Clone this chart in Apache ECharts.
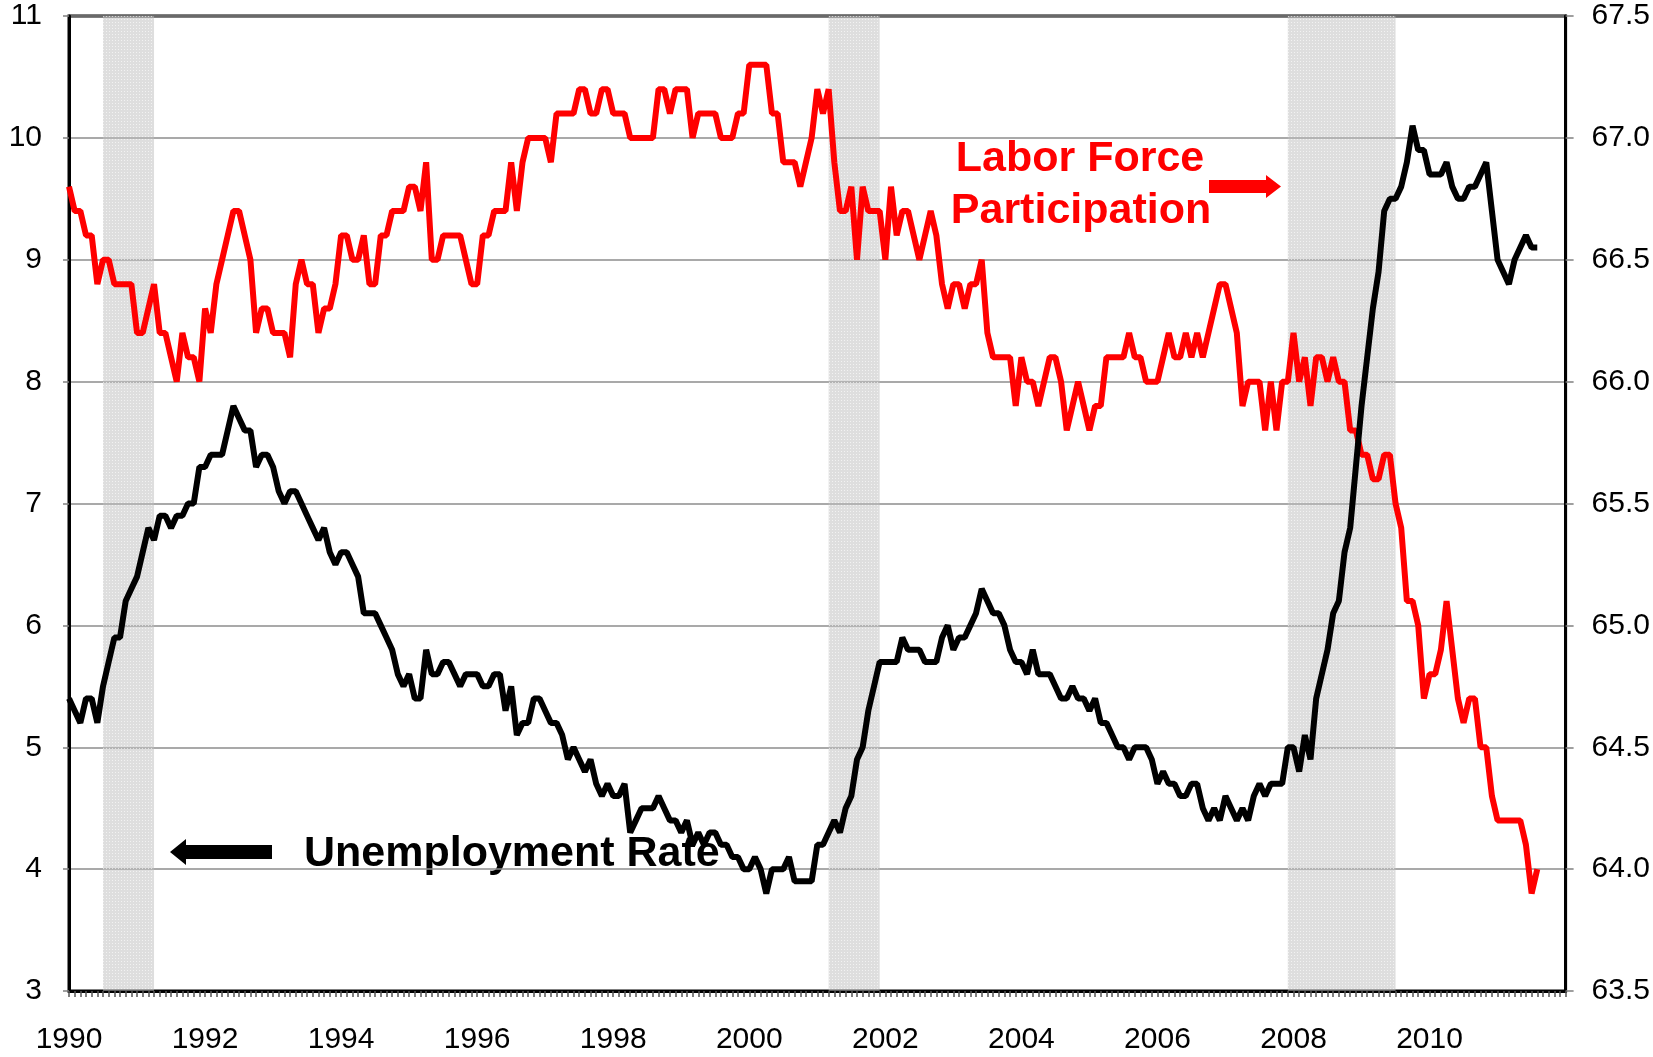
<!DOCTYPE html>
<html>
<head>
<meta charset="utf-8">
<title>Unemployment Rate and Labor Force Participation</title>
<script src="https://cdn.jsdelivr.net/npm/echarts@6/dist/echarts.min.js"></script>
<style>
  html, body { margin: 0; padding: 0; background: #ffffff; }
  #chart { width: 1653px; height: 1057px; }
</style>
</head>
<body>
<div id="chart"></div>
<script>
// monthly data, Jan 1990 .. Aug 2011 (index 0 = Jan 1990)
var yearLabels = ['1990', '1992', '1994', '1996', '1998', '2000', '2002', '2004', '2006', '2008', '2010'];

var unemployment = [
  5.4, 5.3, 5.2, 5.4, 5.4, 5.2, 5.5, 5.7, 5.9, 5.9, 6.2, 6.3,
  6.4, 6.6, 6.8, 6.7, 6.9, 6.9, 6.8, 6.9, 6.9, 7.0, 7.0, 7.3,
  7.3, 7.4, 7.4, 7.4, 7.6, 7.8, 7.7, 7.6, 7.6, 7.3, 7.4, 7.4,
  7.3, 7.1, 7.0, 7.1, 7.1, 7.0, 6.9, 6.8, 6.7, 6.8, 6.6, 6.5,
  6.6, 6.6, 6.5, 6.4, 6.1, 6.1, 6.1, 6.0, 5.9, 5.8, 5.6, 5.5,
  5.6, 5.4, 5.4, 5.8, 5.6, 5.6, 5.7, 5.7, 5.6, 5.5, 5.6, 5.6,
  5.6, 5.5, 5.5, 5.6, 5.6, 5.3, 5.5, 5.1, 5.2, 5.2, 5.4, 5.4,
  5.3, 5.2, 5.2, 5.1, 4.9, 5.0, 4.9, 4.8, 4.9, 4.7, 4.6, 4.7,
  4.6, 4.6, 4.7, 4.3, 4.4, 4.5, 4.5, 4.5, 4.6, 4.5, 4.4, 4.4,
  4.3, 4.4, 4.2, 4.3, 4.2, 4.3, 4.3, 4.2, 4.2, 4.1, 4.1, 4.0,
  4.0, 4.1, 4.0, 3.8, 4.0, 4.0, 4.0, 4.1, 3.9, 3.9, 3.9, 3.9,
  4.2, 4.2, 4.3, 4.4, 4.3, 4.5, 4.6, 4.9, 5.0, 5.3, 5.5, 5.7,
  5.7, 5.7, 5.7, 5.9, 5.8, 5.8, 5.8, 5.7, 5.7, 5.7, 5.9, 6.0,
  5.8, 5.9, 5.9, 6.0, 6.1, 6.3, 6.2, 6.1, 6.1, 6.0, 5.8, 5.7,
  5.7, 5.6, 5.8, 5.6, 5.6, 5.6, 5.5, 5.4, 5.4, 5.5, 5.4, 5.4,
  5.3, 5.4, 5.2, 5.2, 5.1, 5.0, 5.0, 4.9, 5.0, 5.0, 5.0, 4.9,
  4.7, 4.8, 4.7, 4.7, 4.6, 4.6, 4.7, 4.7, 4.5, 4.4, 4.5, 4.4,
  4.6, 4.5, 4.4, 4.5, 4.4, 4.6, 4.7, 4.6, 4.7, 4.7, 4.7, 5.0,
  5.0, 4.8, 5.1, 4.9, 5.4, 5.6, 5.8, 6.1, 6.2, 6.6, 6.8, 7.3,
  7.8, 8.2, 8.6, 8.9, 9.4, 9.5, 9.5, 9.6, 9.8, 10.1, 9.9, 9.9,
  9.7, 9.7, 9.7, 9.8, 9.6, 9.5, 9.5, 9.6, 9.6, 9.7, 9.8, 9.4,
  9.0, 8.9, 8.8, 9.0, 9.1, 9.2, 9.1, 9.1
];

var participation = [
  66.8, 66.7, 66.7, 66.6, 66.6, 66.4, 66.5, 66.5, 66.4, 66.4, 66.4, 66.4,
  66.2, 66.2, 66.3, 66.4, 66.2, 66.2, 66.1, 66.0, 66.2, 66.1, 66.1, 66.0,
  66.3, 66.2, 66.4, 66.5, 66.6, 66.7, 66.7, 66.6, 66.5, 66.2, 66.3, 66.3,
  66.2, 66.2, 66.2, 66.1, 66.4, 66.5, 66.4, 66.4, 66.2, 66.3, 66.3, 66.4,
  66.6, 66.6, 66.5, 66.5, 66.6, 66.4, 66.4, 66.6, 66.6, 66.7, 66.7, 66.7,
  66.8, 66.8, 66.7, 66.9, 66.5, 66.5, 66.6, 66.6, 66.6, 66.6, 66.5, 66.4,
  66.4, 66.6, 66.6, 66.7, 66.7, 66.7, 66.9, 66.7, 66.9, 67.0, 67.0, 67.0,
  67.0, 66.9, 67.1, 67.1, 67.1, 67.1, 67.2, 67.2, 67.1, 67.1, 67.2, 67.2,
  67.1, 67.1, 67.1, 67.0, 67.0, 67.0, 67.0, 67.0, 67.2, 67.2, 67.1, 67.2,
  67.2, 67.2, 67.0, 67.1, 67.1, 67.1, 67.1, 67.0, 67.0, 67.0, 67.1, 67.1,
  67.3, 67.3, 67.3, 67.3, 67.1, 67.1, 66.9, 66.9, 66.9, 66.8, 66.9, 67.0,
  67.2, 67.1, 67.2, 66.9, 66.7, 66.7, 66.8, 66.5, 66.8, 66.7, 66.7, 66.7,
  66.5, 66.8, 66.6, 66.7, 66.7, 66.6, 66.5, 66.6, 66.7, 66.6, 66.4, 66.3,
  66.4, 66.4, 66.3, 66.4, 66.4, 66.5, 66.2, 66.1, 66.1, 66.1, 66.1, 65.9,
  66.1, 66.0, 66.0, 65.9, 66.0, 66.1, 66.1, 66.0, 65.8, 65.9, 66.0, 65.9,
  65.8, 65.9, 65.9, 66.1, 66.1, 66.1, 66.1, 66.2, 66.1, 66.1, 66.0, 66.0,
  66.0, 66.1, 66.2, 66.1, 66.1, 66.2, 66.1, 66.2, 66.1, 66.2, 66.3, 66.4,
  66.4, 66.3, 66.2, 65.9, 66.0, 66.0, 66.0, 65.8, 66.0, 65.8, 66.0, 66.0,
  66.2, 66.0, 66.1, 65.9, 66.1, 66.1, 66.0, 66.1, 66.0, 66.0, 65.8, 65.8,
  65.7, 65.7, 65.6, 65.6, 65.7, 65.7, 65.5, 65.4, 65.1, 65.1, 65.0, 64.7,
  64.8, 64.8, 64.9, 65.1, 64.9, 64.7, 64.6, 64.7, 64.7, 64.5, 64.5, 64.3,
  64.2, 64.2, 64.2, 64.2, 64.2, 64.1, 63.9, 64.0
];

// recessions: first and last month (index from Jan 1990)
var recessions = [[6, 14], [134, 142], [215, 233]];

function withMonth(values) {
  return values.map(function (v, i) { return [i, v]; });
}

// dotted gray fill like the original shading
function shadePattern() {
  var c = document.createElement('canvas');
  c.width = 3;
  c.height = 3;
  var ctx = c.getContext('2d');
  ctx.fillStyle = 'rgba(190,190,190,0.5)';
  ctx.fillRect(0, 0, 3, 3);
  ctx.fillStyle = 'rgba(255,255,255,0.6)';
  ctx.fillRect(1, 1, 1, 1);
  return c;
}

var font = "'Liberation Sans', Arial, sans-serif";

var option = {
  animation: false,
  backgroundColor: '#ffffff',
  grid: {
    left: 69,
    right: 86,
    top: 16,
    bottom: 66,
    show: true,
    borderColor: '#000000',
    borderWidth: 3
  },
  xAxis: {
    type: 'value',
    min: 0,
    max: 264,
    interval: 24,
    axisLine: { show: true, onZero: false, lineStyle: { color: '#000000', width: 3 } },
    axisTick: { show: true, length: 6, lineStyle: { color: '#555555', width: 1.5 } },
    minorTick: { show: true, splitNumber: 24, length: 6, lineStyle: { color: '#555555', width: 1.5 } },
    splitLine: { show: false },
    axisLabel: {
      margin: 34,
      color: '#000000',
      fontSize: 30,
      fontFamily: font,
      formatter: function (v) {
        var k = Math.round(v / 24);
        return k < yearLabels.length ? yearLabels[k] : '';
      }
    }
  },
  yAxis: [
    {
      type: 'value',
      min: 3,
      max: 11,
      interval: 1,
      axisLine: { show: true, lineStyle: { color: '#000000', width: 3 } },
      axisTick: { show: true, length: 6, lineStyle: { color: '#808080', width: 1.5 } },
      splitLine: { show: true, lineStyle: { color: '#8c8c8c', width: 1.5 } },
      axisLabel: { margin: 27, color: '#000000', fontSize: 30, fontFamily: font }
    },
    {
      type: 'value',
      min: 63.5,
      max: 67.5,
      interval: 0.5,
      position: 'right',
      axisLine: { show: true, lineStyle: { color: '#000000', width: 3 } },
      axisTick: { show: true, length: 8, lineStyle: { color: '#808080', width: 1.5 } },
      splitLine: { show: false },
      axisLabel: {
        margin: 26,
        color: '#000000',
        fontSize: 30,
        fontFamily: font,
        formatter: function (v) { return v.toFixed(1); }
      }
    }
  ],
  series: [
    {
      name: 'Labor Force Participation',
      type: 'line',
      yAxisIndex: 1,
      data: withMonth(participation),
      symbol: 'none',
      lineStyle: { color: '#ff0000', width: 6 },
      markArea: {
        silent: true,
        itemStyle: { color: { image: shadePattern(), repeat: 'repeat' } },
        data: recessions.map(function (r) {
          return [{ xAxis: r[0] }, { xAxis: r[1] + 1 }];
        })
      }
    },
    {
      name: 'Unemployment Rate',
      type: 'line',
      yAxisIndex: 0,
      data: withMonth(unemployment),
      symbol: 'none',
      lineStyle: { color: '#000000', width: 6 }
    }
  ],
  graphic: [
    {
      type: 'text',
      x: 1080,
      y: 159,
      style: {
        text: 'Labor Force',
        font: 'bold 43px ' + font,
        fill: '#ff0000',
        align: 'center',
        verticalAlign: 'middle'
      }
    },
    {
      type: 'text',
      x: 1081,
      y: 211,
      style: {
        text: 'Participation',
        font: 'bold 43px ' + font,
        fill: '#ff0000',
        align: 'center',
        verticalAlign: 'middle'
      }
    },
    {
      type: 'polygon',
      shape: {
        points: [[1209, 180], [1266, 180], [1266, 175], [1281, 186.5], [1266, 198], [1266, 193], [1209, 193]]
      },
      style: { fill: '#ff0000' }
    },
    {
      type: 'text',
      x: 304,
      y: 854,
      style: {
        text: 'Unemployment Rate',
        font: 'bold 43px ' + font,
        fill: '#000000',
        align: 'left',
        verticalAlign: 'middle'
      }
    },
    {
      type: 'polygon',
      shape: {
        points: [[170, 852], [186, 839], [186, 845], [272, 845], [272, 859], [186, 859], [186, 865]]
      },
      style: { fill: '#000000' }
    }
  ]
};

var myChart = echarts.init(document.getElementById('chart'));
myChart.setOption(option);
</script>
</body>
</html>
